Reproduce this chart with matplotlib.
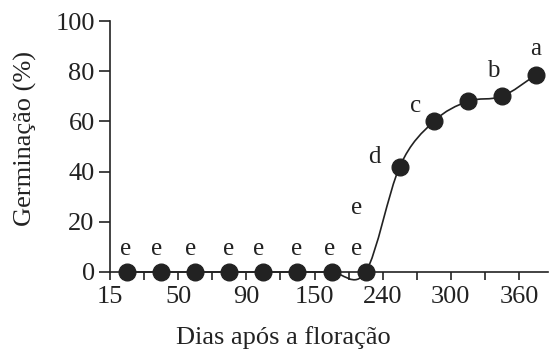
import numpy as np
import matplotlib
matplotlib.use("Agg")
from matplotlib import pyplot as plt
from matplotlib.path import Path
from matplotlib.patches import PathPatch

# dados (eixo x categorico: 13 colheitas)
germinacao = [0, 0, 0, 0, 0, 0, 0, 0, 42, 60, 68, 70, 78.5]
letras = ["e", "e", "e", "e", "e", "e", "e", "e", "d", "c", "", "b", "a"]
tick_labels = ["15", "", "50", "", "90", "", "150", "", "240", "", "300", "", "360"]

# deslocamento das letras em pixels (dx, dy)
offsets = [(-1, 23), (-5, 23), (-5, 23), (-1, 23), (-5, 23), (-1, 23), (-2, 23),
           (-9, 23), (-25, 10), (-18, 15), (0, 0), (-9, 25), (0, 26)]

plt.rcParams['font.family'] = ['Liberation Serif', 'DejaVu Serif']
cor = '#222222'

fig = plt.figure(figsize=(5.54, 3.56), dpi=100)
ax = fig.add_axes([110/554, 84/356, 438/554, 251/356])

x = np.arange(len(germinacao)) + 0.5
y = np.array(germinacao, dtype=float)

# curva suave (Catmull-Rom -> bezier cubica)
verts = [(x[0], y[0])]
codes = [Path.MOVETO]
n = len(x)
for i in range(n - 1):
    y0 = y[i - 1] if i > 0 else y[i]
    y3 = y[i + 2] if i + 2 < n else y[i + 1]
    m1 = (y[i + 1] - y0) / (2 if i > 0 else 1)
    m2 = (y3 - y[i]) / (2 if i + 2 < n else 1)
    verts += [(x[i] + 1/3, y[i] + m1/3), (x[i + 1] - 1/3, y[i + 1] - m2/3), (x[i + 1], y[i + 1])]
    codes += [Path.CURVE4] * 3
ax.add_patch(PathPatch(Path(verts, codes), facecolor='none', edgecolor=cor, lw=1.2,
                       zorder=2, clip_on=False))

ax.plot(x, y, 'o', color=cor, markersize=12, zorder=3, clip_on=False)

for xi, yi, txt, (dx, dy) in zip(x, y, letras, offsets):
    if txt:
        ax.annotate(txt, (xi, yi), xytext=(dx, dy), textcoords='offset pixels',
                    ha='center', va='center', fontsize=18, color=cor)
# segunda letra "e" sobre o ultimo ponto com germinacao zero
ax.annotate("e", (x[7], y[7]), xytext=(-9, 64), textcoords='offset pixels',
            ha='center', va='center', fontsize=18, color=cor)

ax.set_xlim(0, 12.85)
ax.set_ylim(0, 100)
ax.set_xticks(np.arange(13))
ax.set_xticklabels(tick_labels)
ax.set_yticks(range(0, 101, 20))

for s in ['top', 'right']:
    ax.spines[s].set_visible(False)
for s in ['left', 'bottom']:
    ax.spines[s].set_linewidth(1.2)
    ax.spines[s].set_color(cor)

ax.tick_params(axis='both', labelsize=19, colors=cor, width=1.2)
ax.tick_params(axis='x', length=6, pad=4)
ax.tick_params(axis='y', length=8, pad=3)

ax.set_xlabel("Dias após a floração", fontsize=19, color=cor)
ax.xaxis.set_label_coords(0.395, -0.215)
ax.set_ylabel("Germinação (%)", fontsize=19, color=cor)
ax.yaxis.set_label_coords(-0.167, 0.53)

fig.savefig("out.png", dpi=100)
